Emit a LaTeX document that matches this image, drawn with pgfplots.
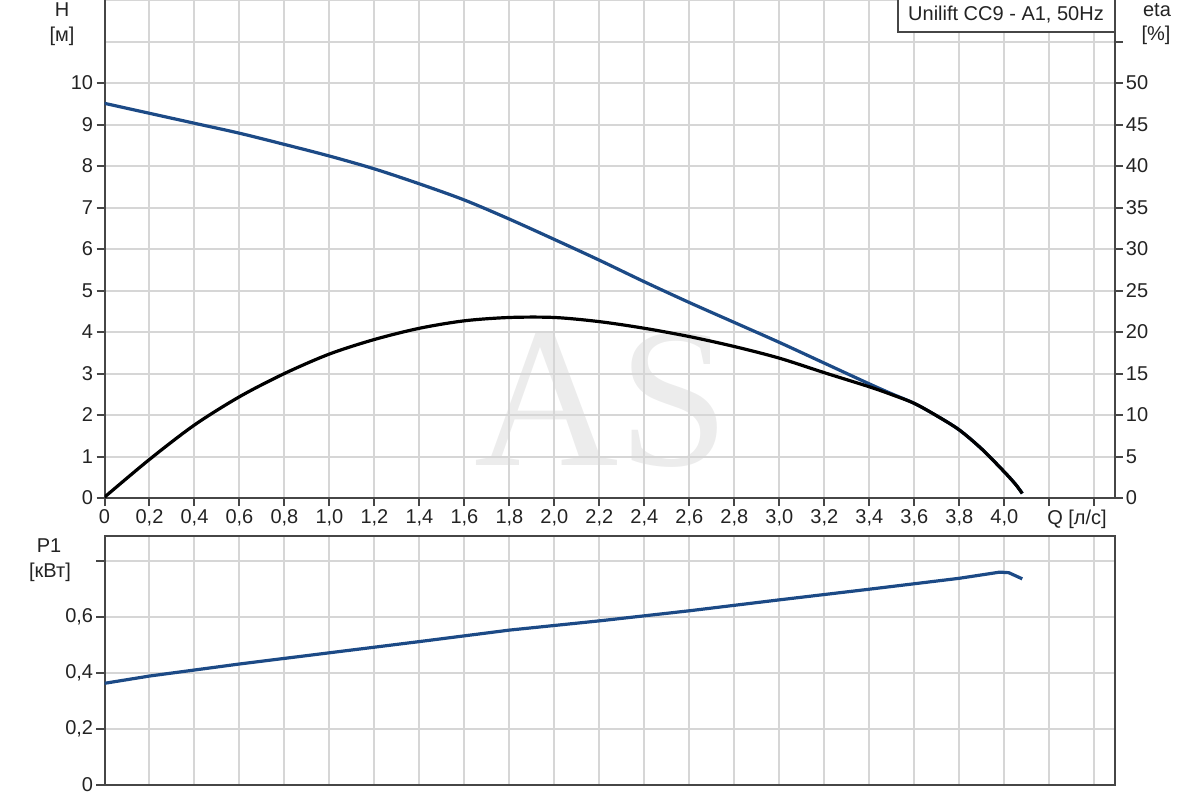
\documentclass[border=0pt]{standalone}
\usepackage{pgfplots}
\pgfplotsset{compat=1.18}
\usepackage{fontspec}
\setmainfont{Liberation Sans}
\newfontfamily\wmfont{Liberation Serif}

\definecolor{hblue}{RGB}{28,74,134}
\definecolor{gridgray}{RGB}{214,214,214}
\definecolor{axgray}{RGB}{70,70,70}
\definecolor{txt}{RGB}{35,35,35}
\definecolor{wm}{RGB}{236,236,236}

\pgfplotsset{
  pump/.style={
    scale only axis,
    width=505bp,
    xmin=0, xmax=4.49,
    xtick={0,0.2,0.4,0.6,0.8,1,1.2,1.4,1.6,1.8,2,2.2,2.4,2.6,2.8,3,3.2,3.4,3.6,3.8,4,4.2,4.4},
    grid style={gridgray, line width=1bp},
    minor grid style={gridgray, line width=1bp},
    axis line style={axgray, line width=1bp},
    tick style={axgray, line width=1bp},
    tick align=outside,
    major tick length=4bp,
    minor tick length=0pt,
    /pgf/number format/assume math mode=true,
    ticklabel style={font=\fontsize{10bp}{12bp}\selectfont, text=txt, inner sep=1.5bp},
  }
}

\begin{document}
\begin{tikzpicture}
\useasboundingbox (0,0) rectangle (600bp,-400bp);

% watermark
\node[text=wm, font=\wmfont\fontsize{100bp}{100bp}\selectfont, inner sep=0] at (301bp,-200bp) {AS};

% H curve, upper panel
\begin{axis}[pump,
  at={(52.25bp,-249bp)}, anchor=south west,
  height=249bp,
  ymin=0, ymax=12,
  ytick={0,1,2,3,4,5,6,7,8,9,10},
  yticklabels={0,1,2,3,4,5,6,7,8,9,10},
  minor ytick={11,12},
  grid=both,
  axis x line*=bottom, axis y line*=left,
  xticklabels={0,{0,2},{0,4},{0,6},{0,8},{1,0},{1,2},{1,4},{1,6},{1,8},{2,0},{2,2},{2,4},{2,6},{2,8},{3,0},{3,2},{3,4},{3,6},{3,8},{4,0},{},{}},
]
\addplot[hblue, line width=1.6bp, smooth] coordinates {
(0,9.51) (0.2,9.27) (0.4,9.03) (0.6,8.79) (0.8,8.52) (1.0,8.24) (1.2,7.93)
(1.4,7.57) (1.6,7.18) (1.8,6.72) (2.0,6.23) (2.2,5.73) (2.4,5.21) (2.6,4.71)
(2.8,4.23) (3.0,3.75) (3.2,3.25) (3.4,2.75) (3.5,2.51) (3.6,2.28) (3.7,1.98)
(3.8,1.64) (3.9,1.18) (4.0,0.63) (4.05,0.33) (4.08,0.11)
};
\end{axis}

% eta curve, right axis
\begin{axis}[pump,
  at={(52.25bp,-249bp)}, anchor=south west,
  height=249bp,
  ymin=0, ymax=60,
  axis y line*=right, axis x line=none,
  xtick=\empty,
  ytick={0,5,10,15,20,25,30,35,40,45,50,55},
  yticklabels={0,5,10,15,20,25,30,35,40,45,50,{}},
]
\addplot[black, line width=1.6bp, smooth] coordinates {
(0,0.1) (0.2,4.65) (0.4,8.8) (0.6,12.2) (0.8,15.0) (1.0,17.35) (1.2,19.1)
(1.4,20.45) (1.6,21.35) (1.8,21.75) (2.0,21.75) (2.2,21.25) (2.4,20.45)
(2.6,19.45) (2.8,18.25) (3.0,16.85) (3.2,15.1) (3.4,13.4) (3.5,12.45)
(3.6,11.4) (3.7,9.9) (3.8,8.2) (3.9,5.9) (4.0,3.15) (4.05,1.65) (4.08,0.55)
};
\end{axis}

% P1 curve, lower panel
\begin{axis}[pump,
  at={(52.25bp,-392.35bp)}, anchor=south west,
  height=124.35bp,
  ymin=0, ymax=0.888,
  grid=major,
  ytick={0,0.2,0.4,0.6,0.8},
  yticklabels={0,{0,2},{0,4},{0,6},{}},
  ytick pos=left,
  xticklabels={},
  xtick style={draw=none},
]
\addplot[hblue, line width=1.6bp] coordinates {
(0,0.362) (0.2,0.388) (0.6,0.431) (1.0,0.471) (1.4,0.511) (1.8,0.552)
(2.2,0.585) (2.6,0.621) (3.0,0.660) (3.4,0.698) (3.8,0.737) (3.98,0.759)
(4.02,0.757) (4.08,0.735)
};
\end{axis}

% labels
\begin{scope}[every node/.style={font=\fontsize{10bp}{12bp}\selectfont, text=txt, inner sep=0}]
\node at (31bp,-5bp) {H};
\node at (31bp,-18bp) {[м]};
\node at (578.5bp,-5bp) {eta};
\node at (578bp,-17.5bp) {[\%]};
\node at (24.5bp,-273bp) {P1};
\node at (25bp,-286bp) {[кВт]};
\node at (538.5bp,-259.5bp) {Q [л/с]};
\draw[axgray, line width=0.8bp, fill=white] (449bp,1bp) rectangle (557.25bp,-16bp);
\node at (503bp,-7.5bp) {Unilift CC9 - A1, 50Hz};
\end{scope}
\end{tikzpicture}
\end{document}
